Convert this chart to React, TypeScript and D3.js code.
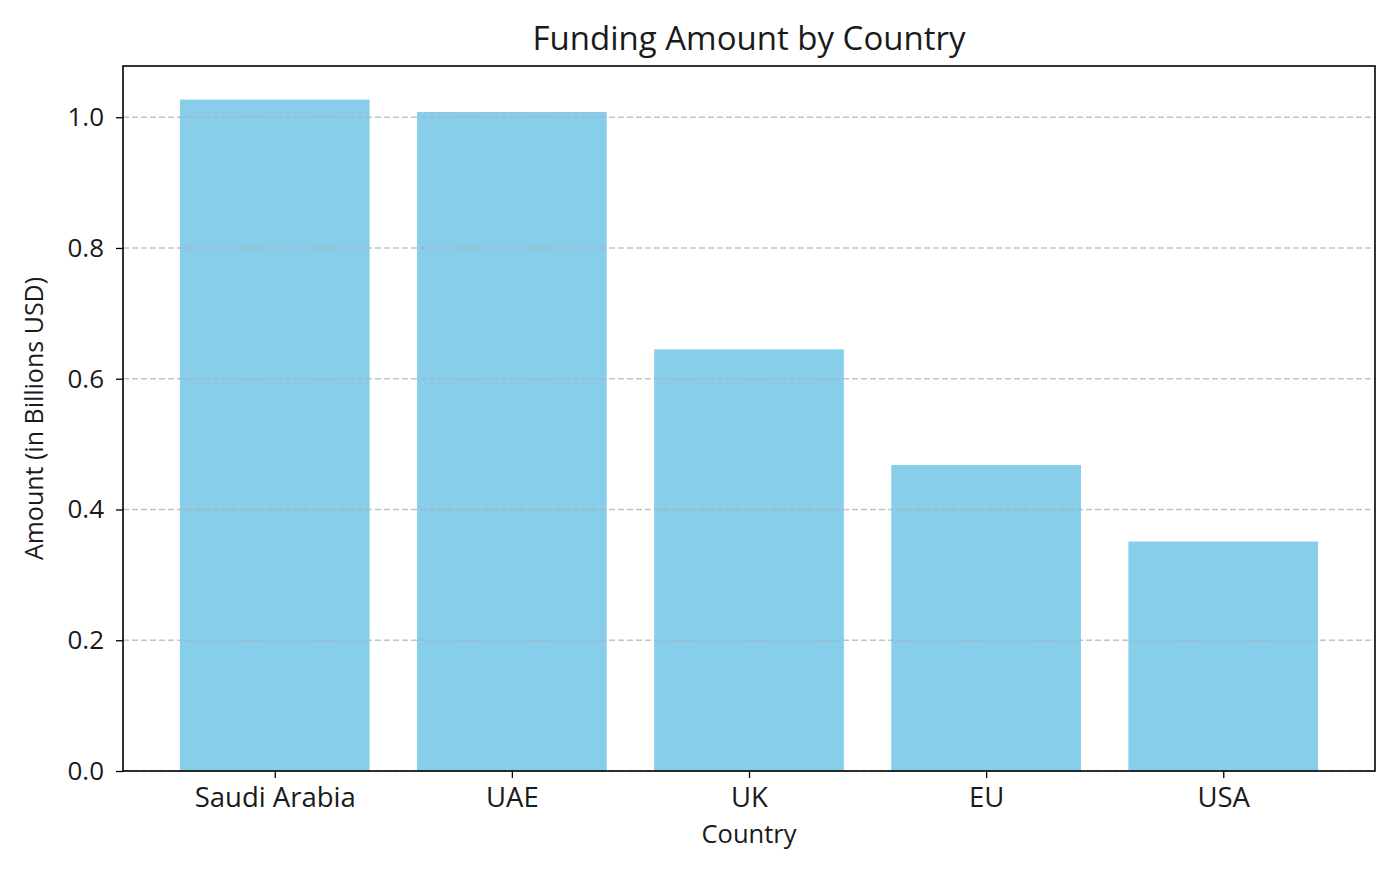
import { useEffect, useRef } from 'react';
import * as d3 from 'd3';

const countries = ['Saudi Arabia', 'UAE', 'UK', 'EU', 'USA'];
const amounts = [1.027, 1.008, 0.645, 0.468, 0.351];
const yTicks = [0, 0.2, 0.4, 0.6, 0.8, 1.0];

const W = 1400;
const H = 875;
const FONT = '"Open Sans", Lato, sans-serif';

export default function App() {
  const svgRef = useRef<SVGSVGElement>(null);

  useEffect(() => {
    if (!svgRef.current) return;
    document.body.style.margin = '0';

    const margin = { top: 66, right: 25, bottom: 104, left: 123 };
    const svg = d3.select(svgRef.current);
    svg.selectAll('*').remove();
    svg.attr('width', W).attr('height', H);

    // linear x like matplotlib: bars at 0..n-1, width 0.8, 5% margins
    const lo = -0.4 - 0.05 * (countries.length - 1 + 0.8);
    const hi = countries.length - 1 + 0.4 + 0.05 * (countries.length - 1 + 0.8);
    const x = d3.scaleLinear().domain([lo, hi]).range([margin.left, W - margin.right]);
    const yMax = d3.max(amounts)! * 1.05;
    const y = d3.scaleLinear().domain([0, yMax]).range([H - margin.bottom, margin.top]);

    const g = svg.append('g');

    g.selectAll('rect.bar')
      .data(amounts)
      .join('rect')
      .attr('class', 'bar')
      .attr('x', (_, i) => x(i - 0.4))
      .attr('width', x(0.4) - x(-0.4))
      .attr('y', (d) => y(d))
      .attr('height', (d) => y(0) - y(d))
      .attr('fill', '#87ceeb');

    // grid on top of bars
    g.selectAll('line.grid')
      .data(yTicks)
      .join('line')
      .attr('class', 'grid')
      .attr('x1', margin.left)
      .attr('x2', W - margin.right)
      .attr('y1', (d) => y(d))
      .attr('y2', (d) => y(d))
      .attr('stroke', '#b0b0b0')
      .attr('stroke-opacity', 0.75)
      .attr('stroke-width', 1.4)
      .attr('stroke-dasharray', '6,3');

    const yAxis = d3.axisLeft(y)
      .tickValues(yTicks)
      .tickFormat(d3.format('.1f'))
      .tickSize(7)
      .tickPadding(12);
    const ya = g.append('g').attr('transform', `translate(${margin.left},0)`).call(yAxis);
    ya.select('.domain').remove();
    ya.selectAll('.tick line').attr('stroke', '#000').attr('stroke-width', 1.3);
    ya.selectAll('.tick text')
      .attr('font-family', FONT)
      .attr('font-size', 26)
      .attr('fill', '#1a1a1a');

    const xAxis = d3.axisBottom(x)
      .tickValues(countries.map((_, i) => i))
      .tickFormat((d) => countries[d as number])
      .tickSize(7)
      .tickPadding(9);
    const xa = g.append('g').attr('transform', `translate(0,${H - margin.bottom})`).call(xAxis);
    xa.select('.domain').remove();
    xa.selectAll('.tick line').attr('stroke', '#000').attr('stroke-width', 1.3);
    xa.selectAll('.tick text')
      .attr('font-family', FONT)
      .attr('font-size', 27.5)
      .attr('fill', '#1a1a1a');

    // frame
    g.append('rect')
      .attr('x', margin.left)
      .attr('y', margin.top)
      .attr('width', W - margin.right - margin.left)
      .attr('height', H - margin.bottom - margin.top)
      .attr('fill', 'none')
      .attr('stroke', '#000')
      .attr('stroke-width', 1.6);

    svg.append('text')
      .text('Funding Amount by Country')
      .attr('x', (margin.left + W - margin.right) / 2)
      .attr('y', 50)
      .attr('text-anchor', 'middle')
      .attr('font-family', FONT)
      .attr('font-size', 33)
      .attr('fill', '#1a1a1a');

    svg.append('text')
      .text('Country')
      .attr('x', (margin.left + W - margin.right) / 2)
      .attr('y', 843)
      .attr('text-anchor', 'middle')
      .attr('font-family', FONT)
      .attr('font-size', 25.5)
      .attr('fill', '#1a1a1a');

    svg.append('text')
      .text('Amount (in Billions USD)')
      .attr('transform', `translate(43,${(margin.top + H - margin.bottom) / 2}) rotate(-90)`)
      .attr('text-anchor', 'middle')
      .attr('font-family', FONT)
      .attr('font-size', 25)
      .attr('fill', '#1a1a1a');
  }, []);

  return <svg ref={svgRef} style={{ display: 'block', background: '#fff' }} />;
}
